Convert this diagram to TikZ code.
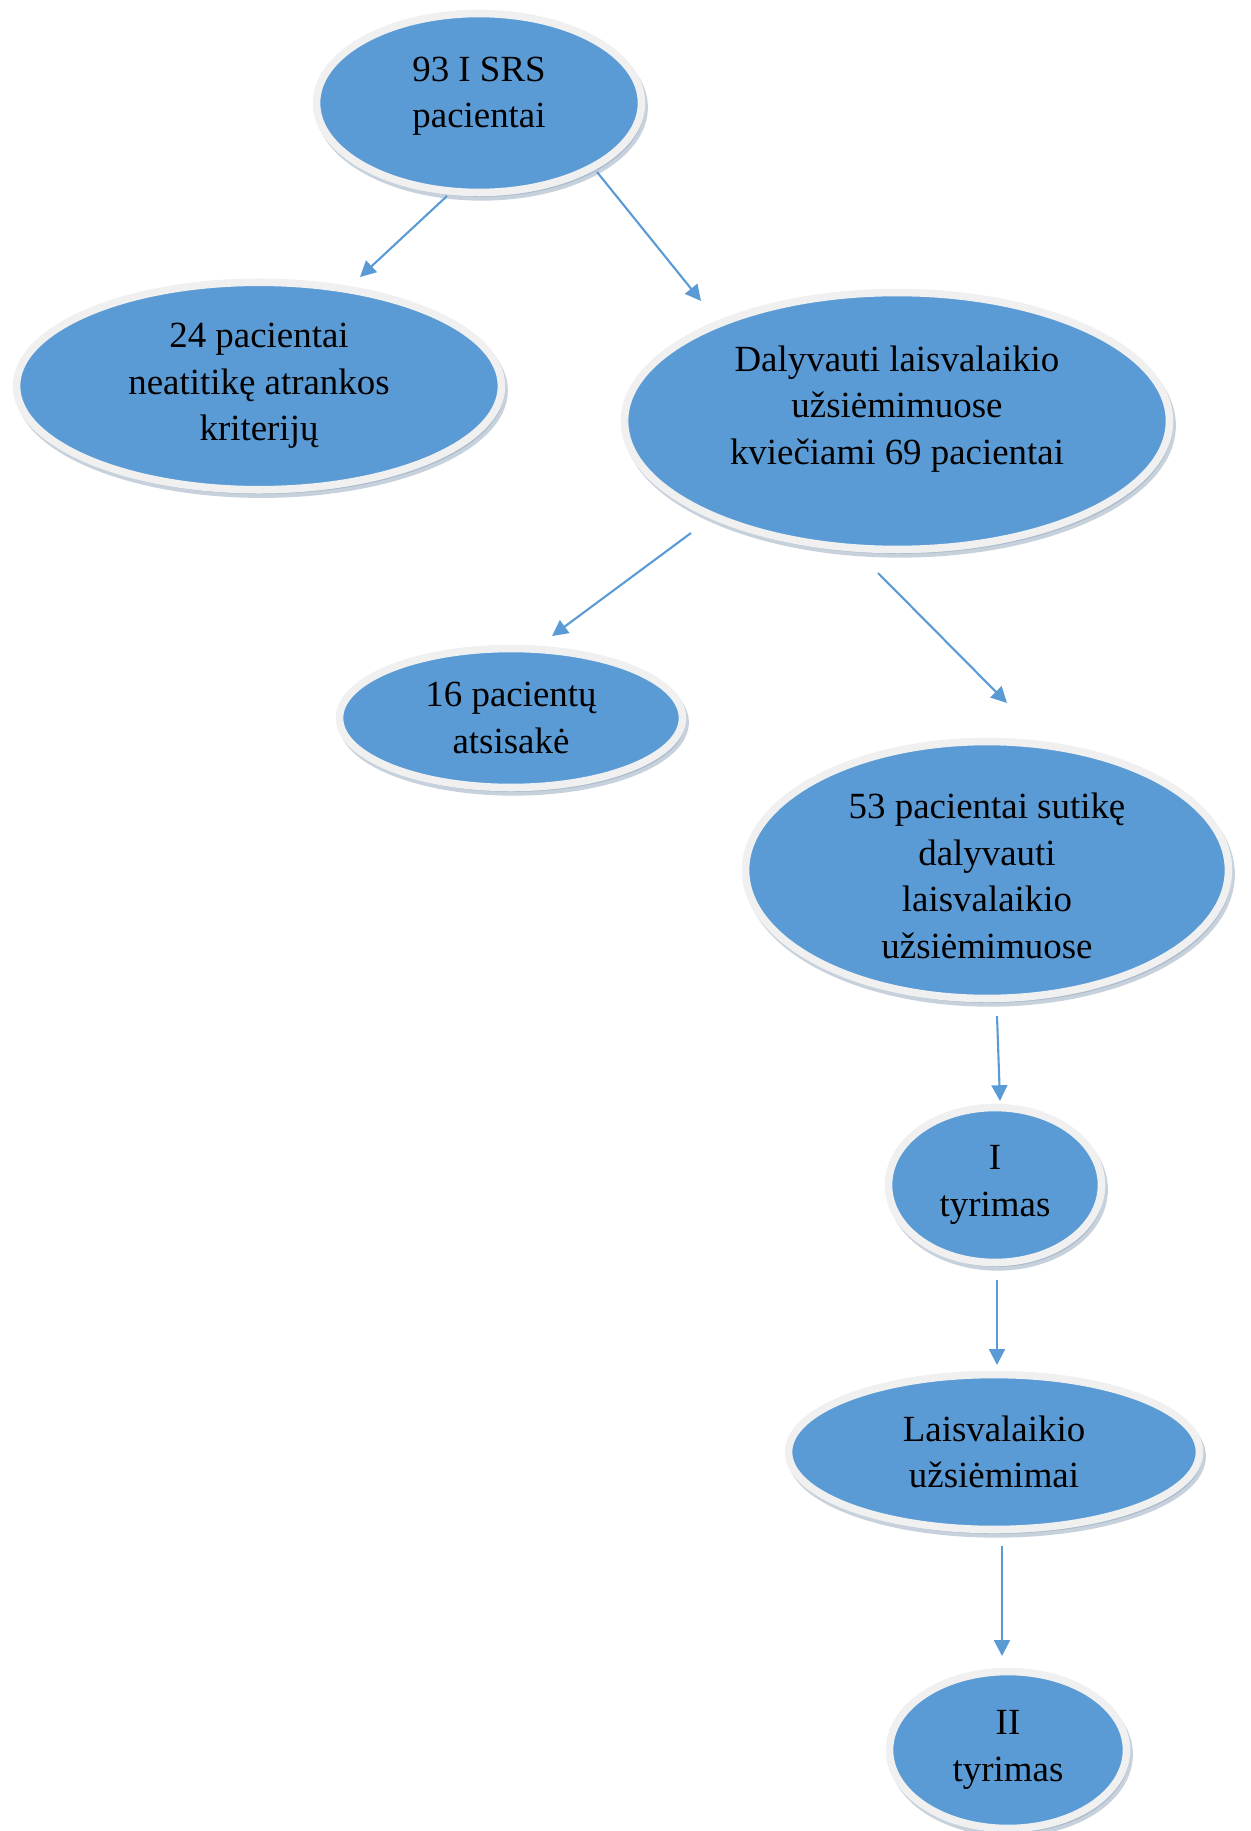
\documentclass[tikz,border=0pt]{standalone}
\usepackage{fontspec}
\setmainfont{Liberation Serif}
\usetikzlibrary{shapes.geometric, arrows.meta, shadows}
\definecolor{ovalblue}{HTML}{5B9BD5}
\definecolor{ringgray}{HTML}{F0F0F0}
\definecolor{shadowblue}{HTML}{8EA3BA}
\tikzstyle{oval} = [ellipse, fill=ovalblue, draw=ringgray, line width=4.3pt, align=center, inner sep=0pt, font=\fontsize{21}{26.5}\selectfont, drop shadow={shadow xshift=1.5pt, shadow yshift=-2.5pt, fill=shadowblue, draw=shadowblue, line width=4.3pt}]
\tikzstyle{arrow} = [line width=1.2pt, draw=ovalblue, -{Triangle[length=9pt,width=9pt]}]

\begin{document}
\begin{tikzpicture}[x=0.02cm, y=-0.02cm]
\useasboundingbox (0,0) rectangle (1250,1831);

% Selection
\node (top) [oval, minimum width=6.5cm, minimum height=3.58cm, text depth=12pt] at (479,103) {93 I SRS\\pacientai};
\node (excluded) [oval, minimum width=9.7cm, minimum height=4.15cm] at (259,386) {24 pacientai\\neatitikę atrankos\\kriterijų};
\node (invited) [oval, minimum width=10.9cm, minimum height=5.14cm, text depth=18pt] at (897,421) {Dalyvauti laisvalaikio\\užsiėmimuose\\kviečiami 69 pacientai};
\node (refused) [oval, minimum width=6.86cm, minimum height=2.78cm] at (511,718) {16 pacientų\\atsisakė};
\node (agreed) [oval, minimum width=9.66cm, minimum height=5.14cm, text height=101pt] at (987,870) {53 pacientai sutikę\\dalyvauti\\laisvalaikio\\užsiėmimuose};

% Study
\node (first) [oval, minimum width=4.26cm, minimum height=3.1cm] at (995,1185) {I\\tyrimas};
\node (leisure) [oval, minimum width=8.22cm, minimum height=3.1cm] at (994,1452) {Laisvalaikio\\užsiėmimai};
\node (second) [oval, minimum width=4.74cm, minimum height=3.14cm] at (1008,1750) {II\\tyrimas};

% Arrows
\draw [arrow] ([shift={(-32,93)}]top.center) -- ([shift={(101,-109)}]excluded.center);
\draw [arrow] ([shift={(118,69)}]top.center) -- ([shift={(-196,-120)}]invited.center);
\draw [arrow] ([shift={(-206,112)}]invited.center) -- ([shift={(41,-82)}]refused.center);
\draw [arrow] ([shift={(-19,152)}]invited.center) -- ([shift={(20,-167)}]agreed.center);
\draw [arrow] ([shift={(10,146)}]agreed.center) -- ([shift={(5,-84)}]first.center);
\draw [arrow] ([shift={(2,95)}]first.center) -- ([shift={(3,-87)}]leisure.center);
\draw [arrow] ([shift={(8,94)}]leisure.center) -- ([shift={(-6,-94)}]second.center);

\end{tikzpicture}
\end{document}
